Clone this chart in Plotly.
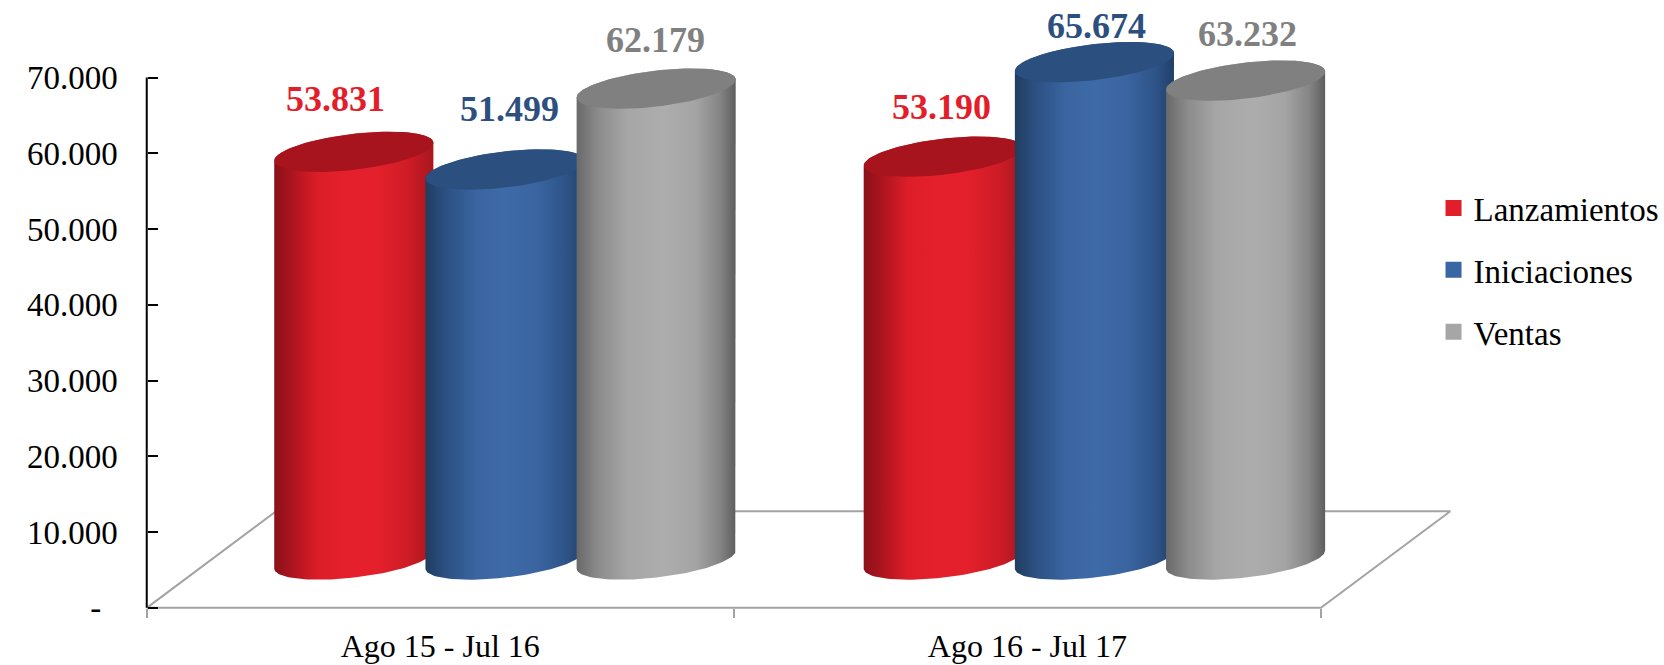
import numpy as np
import plotly.graph_objects as go

periods = ["Ago 15 - Jul 16", "Ago 16 - Jul 17"]
lanzamientos = [53831, 53190]
iniciaciones = [51499, 65674]
ventas = [62179, 63232]
series_names = ["Lanzamientos", "Iniciaciones", "Ventas"]
series_values = [lanzamientos, iniciaciones, ventas]

y_ticks = [0, 10000, 20000, 30000, 40000, 50000, 60000, 70000]
y_labels = ["-\u00a0\u00a0", "10.000", "20.000", "30.000", "40.000", "50.000", "60.000", "70.000"]

# style
FONT = "Liberation Serif"
label_colors = ["#E31E2A", "#2C4F80", "#808080"]
legend_colors = ["#E01F2A", "#3A66A3", "#A6A6A6"]
body_scales = [
    [[0, "#8A1018"], [0.10, "#A8141E"], [0.28, "#DC1E28"], [0.45, "#E4202C"], [0.65, "#E4202C"], [0.85, "#CC1C26"], [1, "#A8161F"]],
    [[0, "#213C60"], [0.12, "#2B4F80"], [0.32, "#3A65A1"], [0.5, "#3E6AA7"], [0.7, "#3A65A1"], [0.88, "#2E5488"], [1, "#22406A"]],
    [[0, "#696969"], [0.14, "#8C8C8C"], [0.32, "#A6A6A6"], [0.55, "#ADADAD"], [0.75, "#A4A4A4"], [0.9, "#858585"], [1, "#5E5E5E"]],
]
top_colors = ["#A8141E", "#2B4F7F", "#808080"]

# cylinder geometry, in axis units
SPACING = 0.2575
GROUP_STEP = 1.004
HALF_W = 0.1355
DEPTH_X = 0.2205
DEPTH_Y = 12745
SHEAR = 1190
RISE = 2381

# axis ranges: wider than the labelled span so the 3D marks are not clipped
X_RANGE = [-0.02, 2.3]
Y_RANGE = [-2000, 78000]

# label nudges in px (x, y) per series and period
label_dx = [[-18, -2], [4, 2], [-1, 2]]
label_dy = [[53, 50], [60, 36], [49, 47]]

fig = go.Figure()

# floor
fig.add_trace(go.Scatter(
    x=[0, DEPTH_X, 2 + DEPTH_X, 2, 0],
    y=[0, DEPTH_Y, DEPTH_Y, 0, 0],
    mode="lines", line=dict(color="#A3A3A3", width=2),
    showlegend=False, hoverinfo="skip"))
# value axis line
fig.add_trace(go.Scatter(
    x=[0, 0], y=[0, 70000], mode="lines", line=dict(color="black", width=2),
    showlegend=False, hoverinfo="skip"))


def ring(cx, cy, t):
    return cx + HALF_W * np.cos(t), cy + SHEAR * np.cos(t) + RISE * np.sin(t)


annotations = []
for s, (name, values) in enumerate(zip(series_names, series_values)):
    for p, v in enumerate(values):
        cx = 0.5 + GROUP_STEP * p + DEPTH_X / 2 + (s - 1) * SPACING
        base = DEPTH_Y / 2
        up = np.linspace(np.pi, 0, 60)
        down = np.linspace(0, -np.pi, 60)
        tx, ty = ring(cx, base + v, up)
        bx, by = ring(cx, base, down)
        fig.add_trace(go.Scatter(
            x=np.r_[tx, bx], y=np.r_[ty, by], mode="lines", line=dict(width=0),
            fill="toself", fillgradient=dict(type="horizontal", colorscale=body_scales[s]),
            showlegend=False, hoverinfo="skip"))
        full = np.linspace(0, 2 * np.pi, 120)
        ex, ey = ring(cx, base + v, full)
        fig.add_trace(go.Scatter(
            x=ex, y=ey, mode="lines", line=dict(width=0), fill="toself",
            fillcolor=top_colors[s], showlegend=False, hoverinfo="skip"))
        annotations.append(dict(
            x=cx, y=base + v, xref="x", yref="y", text=f"{v:,}".replace(",", "."),
            showarrow=False, xshift=label_dx[s][p], yshift=label_dy[s][p],
            font=dict(family=FONT, size=36, color=label_colors[s], weight="bold")))

for s, name in enumerate(series_names):
    fig.add_trace(go.Scatter(
        x=[None], y=[None], mode="markers", name=name, legendgroup=name,
        marker=dict(symbol="square", size=17, color=legend_colors[s])))

fig.update_layout(
    width=1664, height=665, autosize=False,
    margin=dict(l=134.7, r=167, t=17, b=41.9, autoexpand=False),
    paper_bgcolor="white", plot_bgcolor="rgba(0,0,0,0)",
    font=dict(family=FONT, size=33, color="black"),
    annotations=annotations,
    showlegend=True,
    legend=dict(x=0.9534, y=0.7310, xanchor="left", yanchor="top", tracegroupgap=16,
                itemwidth=30, font=dict(family=FONT, size=33), bgcolor="rgba(0,0,0,0)"),
    xaxis=dict(range=X_RANGE, tickvals=[0.5, 1.5], ticktext=periods, ticks="", showgrid=False,
               zeroline=False, showline=False, anchor="free", position=0.025,
               tickfont=dict(size=32), ticklabelstandoff=16,
               minor=dict(ticks="outside", tick0=0, dtick=1, ticklen=9, tickwidth=2,
                          tickcolor="#A3A3A3", showgrid=False)),
    yaxis=dict(range=Y_RANGE, tickvals=y_ticks, ticktext=y_labels, ticks="inside", ticklen=10,
               tickwidth=2, tickcolor="black", showgrid=False, zeroline=False, showline=False,
               anchor="free", position=0.00862, ticklabelstandoff=29),
)

fig.write_html("out.html", post_script="document.body.style.margin='0';",
               config={"displayModeBar": False})
